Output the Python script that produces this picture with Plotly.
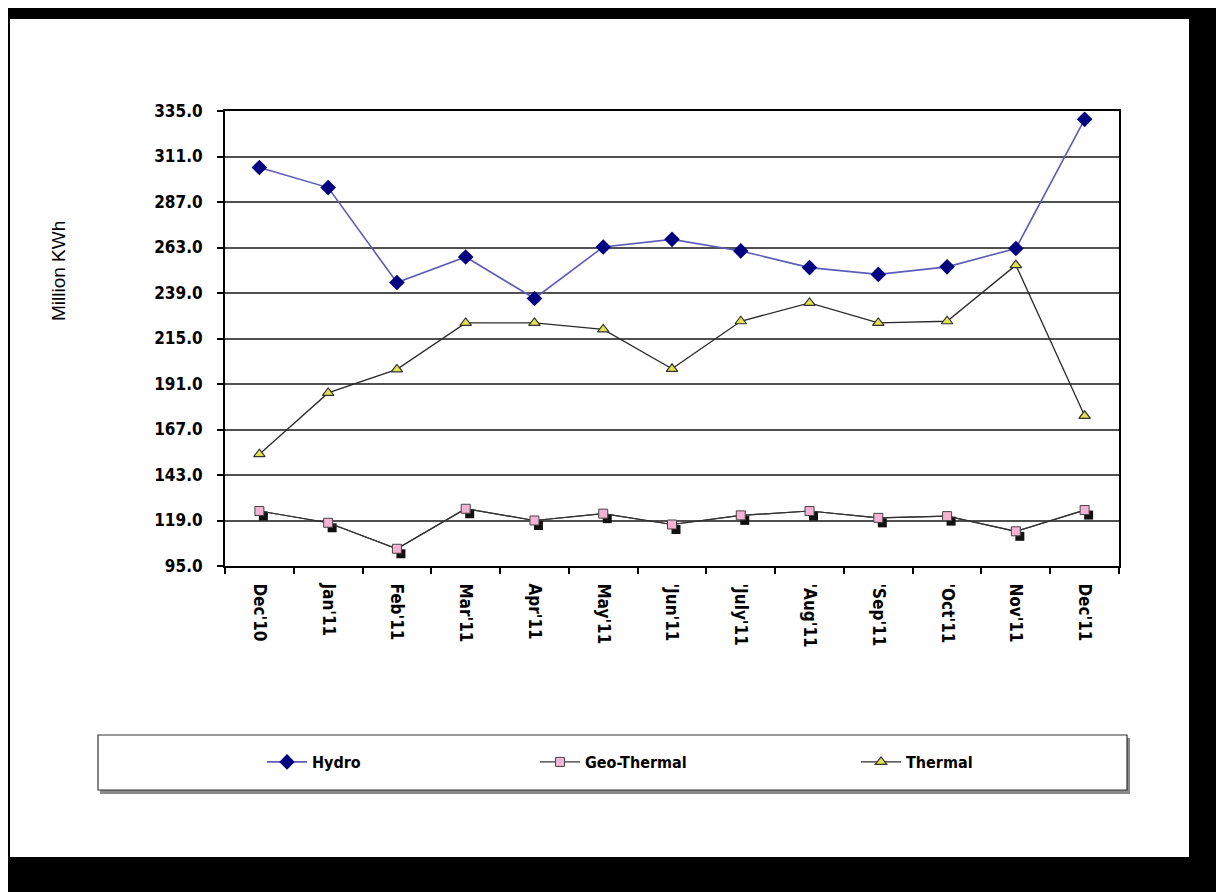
import plotly.graph_objects as go

# ---------------- data ----------------
months = ["Dec'10", "Jan'11", "Feb'11", "Mar'11", "Apr'11", "May'11", "'Jun'11",
          "'July'11", "'Aug'11", "'Sep'11", "'Oct'11", "Nov'11", "Dec'11"]
hydro = [305.2, 294.6, 244.5, 258.0, 236.1, 263.3, 267.3, 261.2, 252.4, 248.8, 252.8, 262.5, 330.6]
geo_thermal = [124.0, 117.8, 104.1, 125.2, 119.0, 122.6, 116.9, 121.7, 124.0, 120.4, 121.3, 113.3, 124.5]
thermal = [154.0, 186.3, 198.7, 223.2, 223.2, 219.8, 199.0, 224.1, 233.8, 223.2, 224.1, 253.7, 174.2]
y_ticks = [95, 119, 143, 167, 191, 215, 239, 263, 287, 311, 335]
y_title = "Million KWh"

# ---------------- geometry (reference pixel coords) ----------------
W, H = 1224, 892
OFF = 8                                  # page body margin
PL, PR, PT, PB = 225, 1119, 111, 566     # plot area in reference pixels
PW, PH = PR - PL, PB - PT
YMIN, YMAX = 95, 335
XMIN, XMAX = -0.5, len(months) - 0.5

def px(x):
    return (x - PL) / PW

def py(y):
    return (PB - y) / PH

FONT = "Liberation Sans Narrow, Arial Narrow, DejaVu Sans Condensed, sans-serif"

SDX, SDY = 4, 5
cat_px = PW / (XMAX - XMIN)
unit_px = PH / (YMAX - YMIN)

fig = go.Figure()

fig.add_trace(go.Scatter(
    x=months, y=hydro, name="Hydro", mode="lines+markers",
    line=dict(color="#5c5cb8", width=1.6),
    marker=dict(symbol="diamond", size=12, color="#000080", line=dict(width=0)),
    legend="legend"))
fig.add_trace(go.Scatter(
    x=months, y=geo_thermal, name="Geo-Thermal", mode="lines",
    line=dict(color="#333333", width=1.2),
    showlegend=False, hoverinfo="skip"))
fig.add_trace(go.Scatter(
    x=months, y=thermal, name="Thermal", mode="lines+markers",
    line=dict(color="#2a2a2a", width=1.3),
    marker=dict(symbol="triangle-up", size=10, color="#e2e24e", line=dict(color="#333333", width=1.2)),
    legend="legend3"))
# shadow squares (shifted invisible axes)
fig.add_trace(go.Scatter(
    x=months, y=geo_thermal, mode="markers", xaxis="x2", yaxis="y2",
    marker=dict(symbol="square", size=9, color="#111111", line=dict(width=0)),
    showlegend=False, hoverinfo="skip"))
# geo-thermal markers on top
fig.add_trace(go.Scatter(
    x=months, y=geo_thermal, name="Geo-Thermal", mode="lines+markers", xaxis="x3", yaxis="y3",
    line=dict(color="#333333", width=1.2),
    marker=dict(symbol="square", size=9, color="#f5b3d3", line=dict(color="#444444", width=1)),
    legend="legend2"))

shapes = [
    dict(type="rect", xref="paper", yref="paper", x0=px(10), x1=px(1189), y0=py(857), y1=py(19),
         fillcolor="white", line=dict(width=0), layer="below"),
    dict(type="rect", xref="paper", yref="paper", x0=px(100), x1=px(1130), y0=py(794), y1=py(738),
         fillcolor="#8a8a8a", line=dict(width=0), layer="below"),
    dict(type="rect", xref="paper", yref="paper", x0=px(98), x1=px(1127), y0=py(790), y1=py(735),
         fillcolor="white", line=dict(color="#333333", width=1.2), layer="below"),
]

legend_common = dict(orientation="h", bgcolor="rgba(0,0,0,0)", borderwidth=0,
                     font=dict(family=FONT, size=16, color="black", weight="bold"),
                     xanchor="left", yanchor="middle", itemwidth=40)

axis_font = dict(family=FONT, size=17, color="black", weight="bold")

fig.update_layout(
    width=W, height=H,
    margin=dict(l=PL - OFF, r=W - (PR - OFF), t=PT - OFF, b=H - (PB - OFF), pad=0),
    paper_bgcolor="black", plot_bgcolor="white",
    font=dict(family=FONT, color="black"),
    shapes=shapes,
    xaxis=dict(type="category", categoryorder="array", categoryarray=months,
               range=[XMIN, XMAX], showgrid=False, zeroline=False,
               showline=True, linecolor="black", linewidth=2, mirror=True,
               ticks="outside", ticklen=6, tickcolor="black", tickwidth=1.5,
               tickson="boundaries", tickangle=90, tickfont=axis_font,
               ticklabelstandoff=12),
    yaxis=dict(range=[YMIN, YMAX], tickvals=y_ticks, tickformat=".1f",
               showgrid=True, gridcolor="#505050", gridwidth=2.2, zeroline=False,
               showline=True, linecolor="black", linewidth=2, mirror=True,
               ticks="outside", ticklen=6, tickcolor="black", tickwidth=1.5,
               tickfont=axis_font, ticklabelstandoff=11),
    xaxis2=dict(type="category", categoryorder="array", categoryarray=months, overlaying="x",
                range=[XMIN - SDX / cat_px, XMAX - SDX / cat_px], visible=False),
    yaxis2=dict(overlaying="y", range=[YMIN + SDY / unit_px, YMAX + SDY / unit_px], visible=False),
    xaxis3=dict(type="category", categoryorder="array", categoryarray=months, overlaying="x",
                range=[XMIN, XMAX], visible=False),
    yaxis3=dict(overlaying="y", range=[YMIN, YMAX], visible=False),
    legend=dict(x=px(262), y=py(762), **legend_common),
    legend2=dict(x=px(535), y=py(762), **legend_common),
    legend3=dict(x=px(856), y=py(762), **legend_common),
    annotations=[dict(text=y_title, xref="paper", yref="paper", x=px(58), y=py(271),
                      textangle=-90, showarrow=False, xanchor="center", yanchor="middle",
                      font=dict(family="Liberation Sans, Arial, sans-serif", size=19, color="black"))],
    hovermode=False,
)

fig.write_html("out.html")
